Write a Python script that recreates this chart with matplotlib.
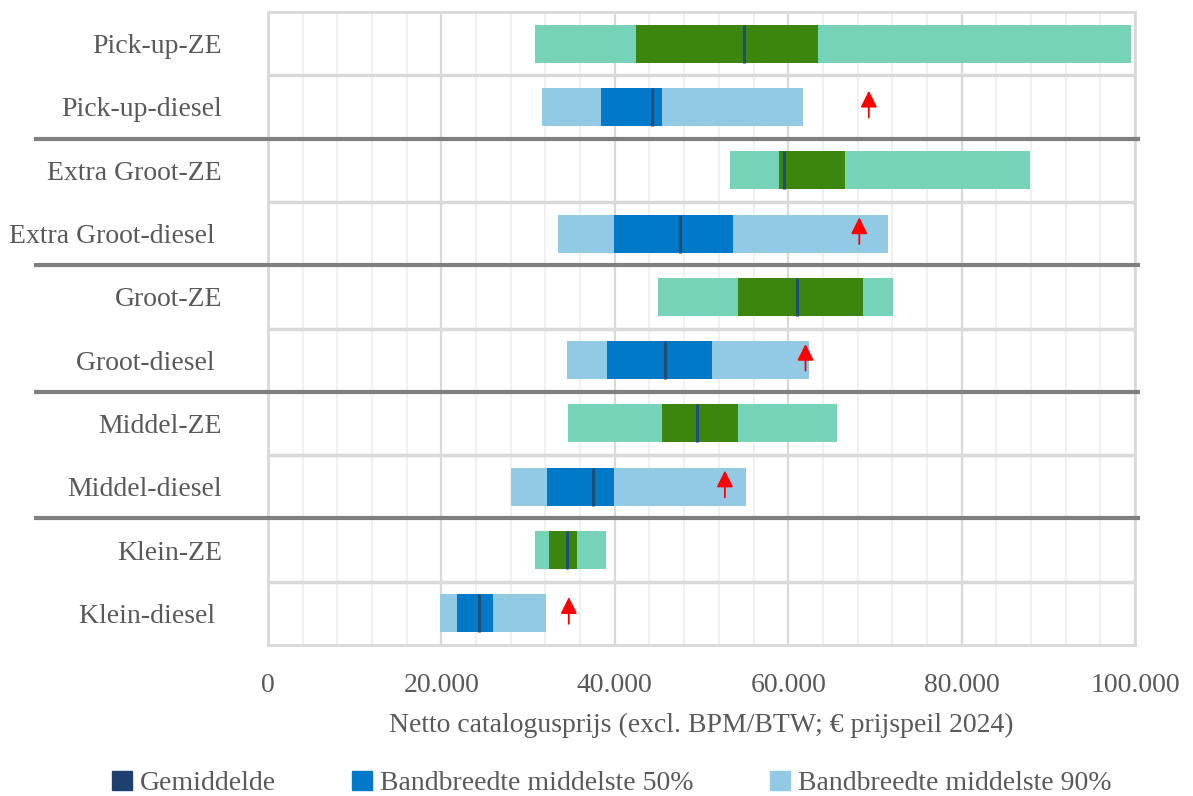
import matplotlib
matplotlib.use('Agg')
import matplotlib.pyplot as plt
from matplotlib.patches import Patch

cats = ["Pick-up-ZE", "Pick-up-diesel", "Extra Groot-ZE", "Extra Groot-diesel ",
        "Groot-ZE", "Groot-diesel ", "Middel-ZE", "Middel-diesel", "Klein-ZE", "Klein-diesel "]
lo90 = [30800, 31600, 53300, 33400, 45000, 34500, 34600, 28000, 30800, 19800]
lo50 = [42400, 38400, 58900, 39900, 54200, 39100, 45500, 32200, 32400, 21800]
mean = [54900, 44300, 59500, 47500, 61000, 45800, 49500, 37500, 34500, 24300]
hi50 = [63400, 45400, 66500, 53600, 68600, 51200, 54200, 39900, 35700, 25900]
hi90 = [99500, 61700, 87900, 71500, 72100, 62400, 65600, 55100, 39000, 32100]
arrow_x = [None, 69300, None, 68200, None, 62000, None, 52700, None, 34700]

xticks = [0, 20000, 40000, 60000, 80000, 100000]
xticklabels = ["0", "20.000", "40.000", "60.000", "80.000", "100.000"]

plt.rcParams['font.family'] = ['Liberation Serif', 'DejaVu Serif']
txt = '#595959'
fs = 20

fig = plt.figure(figsize=(11.93, 7.96), dpi=100)
ax = fig.add_axes([0.2246, 0.1897, 0.7268, 0.7952])

# grid
for v in range(0, 100001, 4000):
    if v % 20000 == 0:
        ax.axvline(v, color='#d9d9d9', lw=1.6, zorder=0)
    else:
        ax.axvline(v, color='#efefef', lw=1.3, zorder=0)

y = list(range(len(cats)))
for i in y:
    ze = cats[i].strip().endswith('ZE')
    c_light = '#76d3b8' if ze else '#92cae6'
    c_dark = '#3c860e' if ze else '#007ac8'
    ax.barh(i, hi90[i] - lo90[i], left=lo90[i], height=0.6, color=c_light, zorder=2)
    ax.barh(i, hi50[i] - lo50[i], left=lo50[i], height=0.6, color=c_dark, zorder=3)
    ax.vlines(mean[i], i - 0.3, i + 0.3, color='#1f4e79', lw=2.2, zorder=4)
    if arrow_x[i] is not None:
        ax.annotate('', xy=(arrow_x[i], i - 0.3), xytext=(arrow_x[i], i + 0.21),
                    arrowprops=dict(arrowstyle='-|>,head_length=1.0,head_width=0.5',
                                    color='red', lw=1.3), zorder=5)

# row separators
for k in [0.5, 2.5, 4.5, 6.5, 8.5]:
    ax.axhline(k, color='#d9d9d9', lw=2.5, zorder=1)
for k in [1.5, 3.5, 5.5, 7.5]:
    ax.axhline(k, xmin=-0.268, xmax=1.004, color='#7f7f7f', lw=3, zorder=6, clip_on=False)

ax.set_xlim(0, 100000)
ax.set_ylim(9.5, -0.5)
ax.set_yticks(y)
ax.set_yticklabels(cats, fontsize=fs, color=txt)
ax.set_xticks(xticks)
ax.set_xticklabels(xticklabels, fontsize=fs, color=txt)
ax.tick_params(axis='both', length=0)
ax.tick_params(axis='y', pad=33)
ax.tick_params(axis='x', pad=20)
ax.set_xlabel('Netto catalogusprijs (excl. BPM/BTW; € prijspeil 2024)', fontsize=fs,
              color=txt, labelpad=11)
for s in ax.spines.values():
    s.set_color('#d9d9d9')
    s.set_linewidth(2)

handles = [Patch(color='#1f3f6e'), Patch(color='#007ac8'), Patch(color='#92cae6')]
labels = ['Gemiddelde', 'Bandbreedte middelste 50%', 'Bandbreedte middelste 90%']
fig.legend(handles, labels, loc='upper left', bbox_to_anchor=(0.094, 0.032), ncol=3,
           frameon=False, fontsize=fs, handlelength=0.7, handleheight=0.7,
           handletextpad=0.3, columnspacing=2.75, labelcolor=txt, borderaxespad=0,
           borderpad=0)

fig.savefig('out.png', dpi=100)
